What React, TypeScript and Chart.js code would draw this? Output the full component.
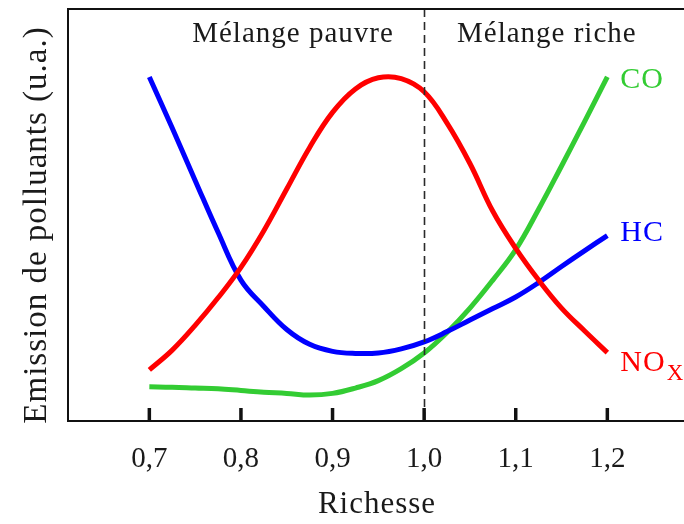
import React, { useEffect, useRef } from "react";
import { Chart, registerables } from "chart.js";

Chart.register(...registerables);

// Richesse (x) sampled points
const richesse = [
  0.7, 0.725, 0.75, 0.775, 0.8, 0.825, 0.85, 0.875, 0.9, 0.925, 0.95,
  0.975, 1.0, 1.025, 1.05, 1.075, 1.1, 1.125, 1.15, 1.175, 1.2,
];
// Emission (u.a.)
const hc = [
  83.5, 71.1, 58.4, 45.8, 34.2, 27.8, 22.2, 18.6, 16.9, 16.4, 16.5,
  17.5, 19.2, 21.7, 24.5, 27.3, 30.1, 33.6, 37.5, 41.3, 45.0,
];
const nox = [
  12.4, 17.2, 23.2, 29.9, 37.3, 46.2, 56.3, 66.4, 74.9, 80.6, 83.3,
  83.1, 79.9, 72.3, 62.5, 50.9, 41.9, 34.2, 27.4, 21.9, 16.6,
];
const co = [
  8.3, 8.2, 8.0, 7.8, 7.4, 7.0, 6.7, 6.3, 6.7, 8.0, 9.8,
  12.7, 16.5, 21.5, 27.4, 34.2, 41.6, 51.4, 61.9, 72.6, 83.5,
];

const tickValues = [0.7, 0.8, 0.9, 1.0, 1.1, 1.2];
const tickLabels = ["0,7", "0,8", "0,9", "1,0", "1,1", "1,2"];
const xTitle = "Richesse";
const yTitle = "Emission de polluants (u.a.)";
const zoneLabels = ["Mélange pauvre", "Mélange riche"];
const stoichiometric = 1.0;
const seriesNames = ["HC", "NO", "CO"];
const noxSubscript = "X";

const BLUE = "#0000ff";
const RED = "#ff0000";
const GREEN = "#33cc33";
const INK = "#1a1a1a";
const SERIF = '"Liberation Serif", "Times New Roman", serif';

const decorPlugin = {
  id: "decor",
  afterDatasetsDraw(chart: any) {
    const { ctx, chartArea, scales } = chart;
    const xs = scales.x;
    const ys = scales.y;
    ctx.save();

    // dashed stoichiometric line
    const xd = Math.round(xs.getPixelForValue(stoichiometric)) + 0.5;
    ctx.strokeStyle = "#2a2a2a";
    ctx.lineWidth = 1.6;
    ctx.setLineDash([8, 5]);
    ctx.beginPath();
    ctx.moveTo(xd, chartArea.top);
    ctx.lineTo(xd, chartArea.bottom);
    ctx.stroke();
    ctx.setLineDash([]);

    // frame: left, top, bottom
    ctx.strokeStyle = "#111111";
    ctx.lineWidth = 2;
    ctx.beginPath();
    ctx.moveTo(chartArea.right + 2, chartArea.top);
    ctx.lineTo(chartArea.left, chartArea.top);
    ctx.lineTo(chartArea.left, chartArea.bottom);
    ctx.lineTo(chartArea.right + 2, chartArea.bottom);
    ctx.stroke();

    // inner ticks
    ctx.lineWidth = 3.5;
    tickValues.forEach((v) => {
      const px = xs.getPixelForValue(v);
      ctx.beginPath();
      ctx.moveTo(px, chartArea.bottom - 13);
      ctx.lineTo(px, chartArea.bottom);
      ctx.stroke();
    });

    // tick labels
    ctx.fillStyle = INK;
    ctx.font = `29px ${SERIF}`;
    ctx.textAlign = "center";
    ctx.textBaseline = "alphabetic";
    tickValues.forEach((v, i) => {
      ctx.fillText(tickLabels[i], xs.getPixelForValue(v), chartArea.bottom + 46);
    });

    const setSpacing = (s: string) => {
      try {
        (ctx as any).letterSpacing = s;
      } catch (e) {}
    };

    // x title
    setSpacing("1px");
    ctx.font = `31px ${SERIF}`;
    ctx.fillText(xTitle, 377, chartArea.bottom + 92);

    // zone labels
    ctx.font = `29px ${SERIF}`;
    ctx.fillText(zoneLabels[0], 293, 42);
    ctx.textAlign = "left";
    ctx.fillText(zoneLabels[1], 457, 42);

    // y title
    ctx.save();
    ctx.font = `33px ${SERIF}`;
    ctx.translate(46, 225);
    ctx.rotate(-Math.PI / 2);
    ctx.textAlign = "center";
    ctx.fillText(yTitle, 0, 0);
    ctx.restore();

    // series labels
    const lx = xs.getPixelForValue(1.2) + 13;
    ctx.textAlign = "left";
    ctx.font = `30px ${SERIF}`;
    ctx.fillStyle = GREEN;
    ctx.fillText(seriesNames[2], lx, ys.getPixelForValue(co[co.length - 1]) + 11);
    ctx.fillStyle = BLUE;
    ctx.fillText(seriesNames[0], lx, ys.getPixelForValue(hc[hc.length - 1]) + 5);
    ctx.fillStyle = RED;
    const noY = ys.getPixelForValue(nox[nox.length - 1]) + 18;
    ctx.fillText(seriesNames[1], lx, noY);
    const noW = ctx.measureText(seriesNames[1]).width;
    ctx.font = `23px ${SERIF}`;
    ctx.fillText(noxSubscript, lx + noW + 1, noY + 9);
    setSpacing("0px");

    ctx.restore();
  },
};

export default function App() {
  const canvasRef = useRef<HTMLCanvasElement | null>(null);

  useEffect(() => {
    const canvas = canvasRef.current;
    if (!canvas) return;
    const mk = (ys: number[]) => richesse.map((x, i) => ({ x, y: ys[i] }));
    const chart = new Chart(canvas, {
      type: "line",
      data: {
        datasets: [
          { label: "NOx", data: mk(nox), borderColor: RED },
          { label: "HC", data: mk(hc), borderColor: BLUE },
          { label: "CO", data: mk(co), borderColor: GREEN },
        ].map((d) => ({
          ...d,
          borderWidth: 5,
          pointRadius: 0,
          fill: false,
          tension: 0.4,
        })),
      },
      options: {
        responsive: false,
        animation: false,
        devicePixelRatio: 1,
        layout: { padding: { left: 68, top: 9, right: 0, bottom: 103 } },
        scales: {
          x: { type: "linear", display: false, min: 0.6112, max: 1.2837 },
          y: { type: "linear", display: false, min: 0, max: 100 },
        },
        plugins: {
          legend: { display: false },
          tooltip: { enabled: false },
        },
      },
      plugins: [decorPlugin],
    });
    return () => chart.destroy();
  }, []);

  return (
    <div style={{ position: "absolute", left: 0, top: 0, width: 684, height: 524, background: "#fff" }}>
      <canvas ref={canvasRef} width={684} height={524} style={{ display: "block" }} />
    </div>
  );
}
